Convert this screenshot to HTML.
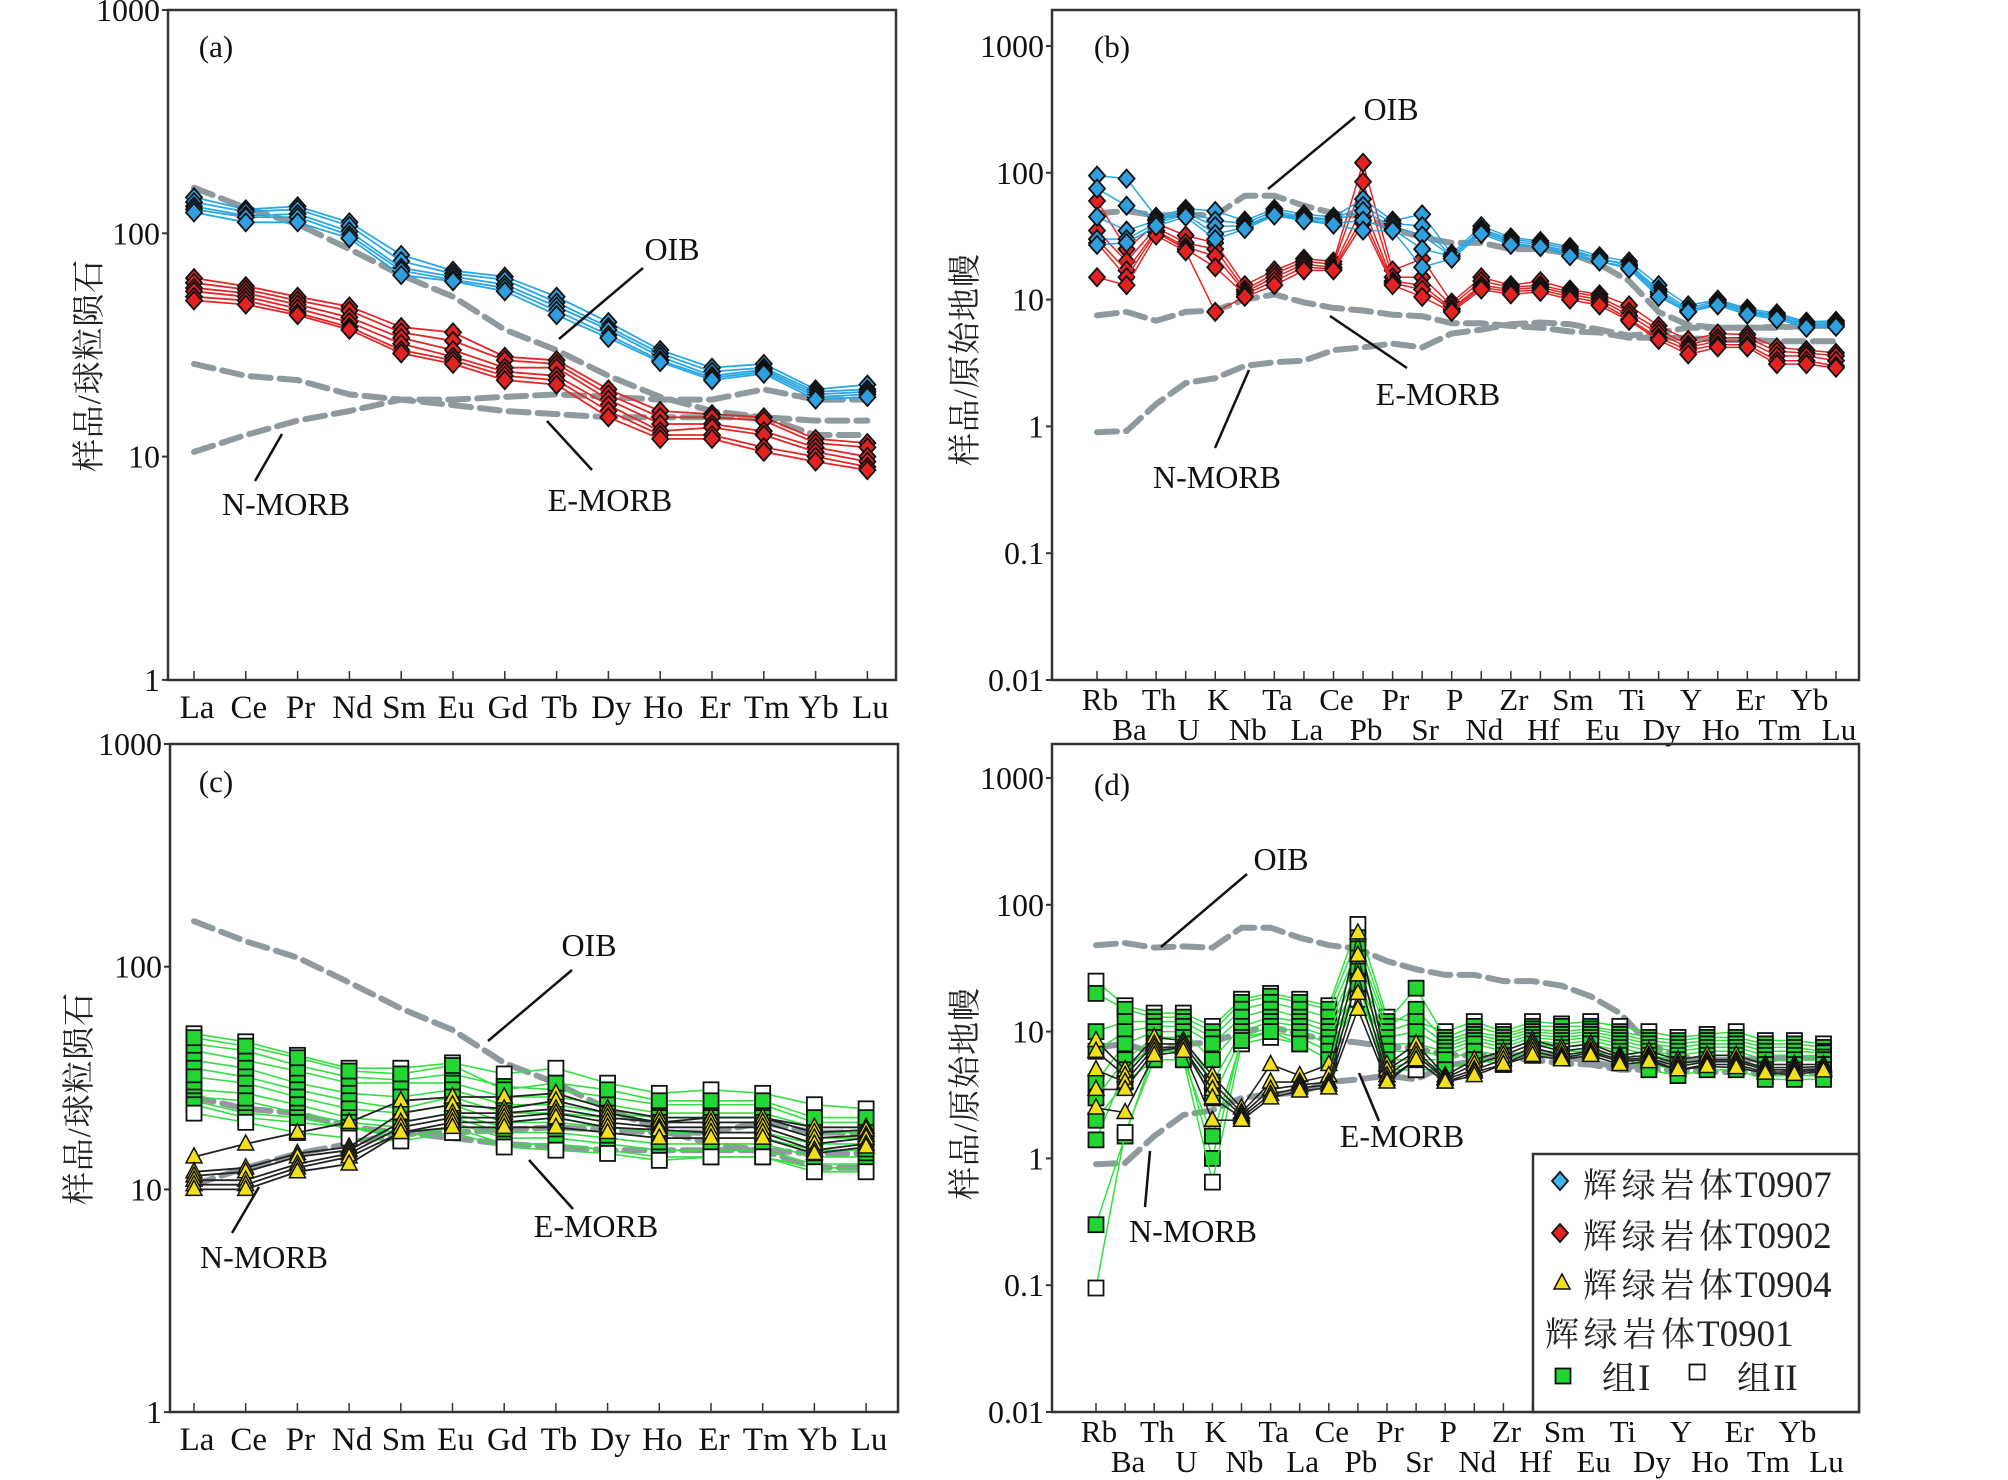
<!DOCTYPE html>
<html><head><meta charset="utf-8"><title>REE and trace element diagrams</title>
<style>
html,body{margin:0;padding:0;background:#fff;}
svg{display:block;font-family:"Liberation Serif","Noto Serif CJK SC","Noto Sans CJK SC",serif;}
</style></head>
<body>
<svg id="fig" width="2008" height="1480" viewBox="0 0 2008 1480" xmlns="http://www.w3.org/2000/svg"></svg>
<script>
// ---------- categories ----------
const reeElements = ["La","Ce","Pr","Nd","Sm","Eu","Gd","Tb","Dy","Ho","Er","Tm","Yb","Lu"];
const spiderElements = ["Rb","Ba","Th","U","K","Nb","Ta","La","Ce","Pb","Pr","Sr","P","Nd","Zr","Hf","Sm","Eu","Ti","Dy","Y","Ho","Er","Tm","Yb","Lu"];
const reeTicks = ["1000","100","10","1"];
const reeTickValues = [1000,100,10,1];
const spiderTicks = ["1000","100","10","1","0.1","0.01"];
const spiderTickValues = [1000,100,10,1,0.1,0.01];

// ---------- reference curves (chondrite-normalised) ----------
const reeOIB   = [160,130,110,85,65,52,37,30,23,18.5,16,15,12.5,12.5];
const reeEMORB = [26,23,22,19,18,17,16,15.5,15,15,15,15,14.5,14.5];
const reeNMORB = [10.5,12.5,14.5,16,18,18,18.5,19,18.5,18,18,20,18,18];

// ---------- reference curves (primitive-mantle-normalised) ----------
const pmOIB   = [48,50,46,47,46,66,66,55,48,45,36,31,28,28,25,25,23,19,14,8,6.3,6,6,6,6.2,6.2];
const pmEMORB = [7.5,8,6.8,8,8.2,10,11,9.5,8.6,8.2,7.6,7.4,6.5,6.5,6.2,6,5.6,5.5,5,5,5,4.8,4.8,4.7,4.7,4.7];
const pmNMORB = [0.9,0.92,1.5,2.2,2.4,3,3.2,3.3,4,4.2,4.5,4.2,5.4,5.8,6.4,6.6,6.4,5.8,5.2,5.5,6,6,6,6.1,6.2,6.2];

// ---------- panel (a) ----------
const aBlue1 = [145,128,132,112,80,68,64,52,40,30,25,26,20,21];
const aBlue2 = [138,125,128,108,75,66,62,49,38,29,24,25,19.5,20];
const aBlue3 = [132,120,122,102,70,64,59,47,37,28,23,24.5,19,19.5];
const aBlue4 = [128,118,118,98,68,62,57,45,35,27,22.5,24,18.5,19];
const aBlue5 = [124,112,112,95,65,61,55,43,34,26.5,22,23.5,18,18.5];
const aRed1 = [63,58,52,47,38,36,28,27,20,16,15.5,15,12,11.5];
const aRed2 = [60,56,50,45,36,33,27,26,19,15,15,14.5,11.5,11];
const aRed3 = [57,54,48,42,34,30,25,25,18,14,14,13,11,10];
const aRed4 = [55,52,46,40,32,28,24,23,17,13,13.5,12.5,10.5,9.5];
const aRed5 = [52,50,44,38,30,27,23,22,16,12.5,12.5,11,10,9];
const aRed6 = [50,48,43,37,29,26,22,21,15,12,12,10.5,9.5,8.7];

// ---------- panel (b) ----------
const bBlue1 = [95,90,45,52,50,42,52,47,45,62,42,47,23,38,31,29,26,22,20,13,9,10,8.5,7.8,6.7,6.8];
const bBlue2 = [75,55,43,50,42,40,50,45,43,55,40,38,22,36,30,28,25,21,19,12,8.5,9.8,8.2,7.6,6.5,6.6];
const bBlue3 = [45,35,42,48,38,38,48,44,42,50,38,32,22,35,29,27,24,21,18.5,11.5,8.2,9.5,8,7.4,6.3,6.4];
const bBlue4 = [30,30,40,47,33,37,47,43,40,42,36,25,22,34,28,26,23,20,18,11,8,9.3,7.8,7.2,6.2,6.3];
const bBlue5 = [27,28,38,45,30,36,46,42,39,35,35,18,21,33,27,26,22,20,17.5,10.5,8,9,7.6,7,6,6.1];
const bRed1 = [60,25,40,32,28,13,17,21,20,120,17,21,9.5,15,13,14,12,11,9,6.2,4.8,5.4,5.3,4.2,4,3.8];
const bRed2 = [35,20,37,28,25,12,16,20,19,85,15,15,9,14,12.5,13,11.5,10.5,8,5.8,4.4,5,5,3.9,3.8,3.6];
const bRed3 = [30,17,35,26,22,11.5,15,19,18,55,14,13,8.5,13,12,12.5,11,10,7.5,5.4,4.2,4.7,4.7,3.6,3.6,3.3];
const bRed4 = [28,15,34,25,18,11,14,18,17.5,45,13.5,12,8.3,12.5,11.5,12,10.5,9.5,7,5,4,4.4,4.4,3.3,3.3,3.0];
const bRed5 = [15,13,32,24,8,10.5,13,17,17,40,13,10.5,8,12,11,11.5,10,9,6.8,4.8,3.7,4.2,4.2,3.1,3.1,2.9];

// ---------- panel (c) ----------
const cGreen1 = [50,46,40,35,35,37,33,35,30,27,28,27,24,23];
const cGreen2 = [45,42,36,32,31,33,29,28,26,24,24,24,20,20];
const cGreen3 = [42,38,34,30,30,30,26,26,24,22,22,22,19,19];
const cGreen4 = [38,35,30,27,26,28,24,24,22,21,21,21,18,18];
const cGreen5 = [35,32,28,25,23,26,22,22,21,20,20,20,17,17];
const cGreen6 = [32,30,26,23,22,24,20,20,19,18,18,18,16,16];
const cGreen7 = [28,27,24,21,20,22,19,19,18,17,17,17,15,15];
const cGreen8 = [26,25,22,20,19,21,18,18,17,16,16,16,14,14];
const cGreen9 = [25,22,21,19,18,20,17,17,16,15,15,15,13,13];
const cGreen10 = [24,21,20,19,17,19,16,16,15,14,14,14,12.5,12.5];
const cGreen11 = [22,20,18,17,16.5,18,15.5,15,14.5,13.5,14,14,12,12];
const cGreen12 = [48,44,39,34,33,36,28,30,28,25,25,25,21,21];
const cTri1 = [14,16,18,20,25,26,26,27,23,21,21,21,19,19];
const cTri2 = [12,12.5,14.5,15.5,22,24,23,25,22,20,21,21,18,18.5];
const cTri3 = [11.5,12,14,15,20,22,22,23,21,20,20,20,17,17.5];
const cTri4 = [11,11,13,14.5,19,21,21,22,20,19,19,19,16,17];
const cTri5 = [10.5,10.5,12.5,14,18,20,20,21,19,18.5,18,18,15,16];
const cTri6 = [10,10,12,13,18,19,19,19,18,17,17,17,14.5,15.5];

// ---------- panel (d) ----------
const dGreen1 = [25,16,14,14,11,18,20,18,16,70,13,12,10,12,10,12,11.5,12,11,10,9,9.5,10,8.5,8.5,8];
const dGreen2 = [20,15,13,13,10,17,19,17,15,55,12,22,9,11,9.5,11,11,11,10,9,8.5,9,9,8,8,7.5];
const dGreen3 = [10,12,12,12,9,15,17,15,13,45,11,15,8.5,10,9,10.5,10,10.5,9.5,8.5,8,8.5,8.5,7.5,7.5,7];
const dGreen4 = [7,10,11,11,8,13,15,13,11,38,10,12,8,9.5,8.5,10,9.5,10,9,8,7.5,8,8,7,7,6.8];
const dGreen5 = [4,8,10,10,6,11,13,12,10,30,9,10,7.5,9,8,9.5,9,9.5,8.5,7.5,7,7.5,7.5,6.5,6.5,6.3];
const dGreen6 = [3,6,9,9,4,10,12,11,9,25,8,8,7,8.5,7.5,9,8.5,9,8,7,6.5,7,7,6,6,6];
const dGreen7 = [1.4,5,8,8,3,9,11,10,8,22,7,7,6.5,8,7,8.5,8,8.5,7.5,6.5,6,6.5,6.5,5.5,5.5,5.5];
const dGreen8 = [0.3,1.5,7,7,1,9,10,9,7,20,6,6,6,7,6.5,8,7.5,8,7,6,5.5,6,6,5,5,5];
const dGreen9 = [0.095,1.6,6,6,0.65,8,9,8,6,18,5,5,5,6,6,7,7,7,6.5,5.5,5,5.5,5.5,4.5,4.5,4.5];
const dGreen10 = [2,4,6,6,1.5,8.5,10,8,6,24,5,6,5,6,5.5,6.5,6.5,7,6.5,5,4.5,5,5,4.2,4.2,4.2];
const dTri1 = [8.5,5,9,8.5,4.5,2.5,5.5,4.5,5.5,60,5.5,8,4.5,6,7,8.5,7.5,8,6.5,7,6,6.5,6.5,5.5,5.5,5.5];
const dTri2 = [7,4.5,8,8,4,2.3,4,4,4.5,40,5,7,4.3,5.5,6.5,8,7,7.5,6.2,6.5,5.6,6,6,5.2,5.2,5.3];
const dTri3 = [5,4,7.5,7.5,3.5,2.2,3.5,3.8,4,28,4.5,6.5,4.2,5,6,7.5,6.5,7,6,6.2,5.3,5.8,5.8,5,5,5.1];
const dTri4 = [3.5,3.5,7,7.5,3,2.1,3.2,3.6,3.8,20,4.2,6,4,4.8,5.5,7,6.2,6.8,5.8,6,5,5.5,5.5,4.8,4.8,5];
const dTri5 = [2.5,2.3,6.5,7,2,2,3,3.4,3.6,15,4,6,4,4.5,5.5,6.5,6,6.5,5.5,5.8,5,5.3,5.2,4.7,4.6,4.9];

// ---------- drawing ----------
const NS = "http://www.w3.org/2000/svg";
const svg = document.getElementById("fig");
function mk(tag, attrs, parent){
  const e = document.createElementNS(NS, tag);
  for (const k in attrs) e.setAttribute(k, attrs[k]);
  (parent||svg).appendChild(e);
  return e;
}

const panels = {
  a:{left:168,top:10,right:896,bottom:680,yTop:10,topVal:1000,decade:223.3,x0:194,step:51.8,cats:reeElements,ticks:reeTicks,tickVals:reeTickValues,twoRow:false,title:"样品/球粒陨石",titleX:90,titleY:366},
  b:{left:1052,top:10,right:1859,bottom:680,yTop:46,topVal:1000,decade:126.8,x0:1097,step:29.56,cats:spiderElements,ticks:spiderTicks,tickVals:spiderTickValues,twoRow:true,title:"样品/原始地幔",titleX:966,titleY:360},
  c:{left:170,top:744,right:898,bottom:1412,yTop:744,topVal:1000,decade:222.7,x0:194,step:51.7,cats:reeElements,ticks:reeTicks,tickVals:reeTickValues,twoRow:false,title:"样品/球粒陨石",titleX:80,titleY:1099},
  d:{left:1052,top:744,right:1859,bottom:1412,yTop:778,topVal:1000,decade:126.8,x0:1096,step:29.1,cats:spiderElements,ticks:spiderTicks,tickVals:spiderTickValues,twoRow:true,title:"样品/原始地幔",titleX:966,titleY:1094}
};
function xScale(p,i){ return p.x0 + i*p.step; }
function yScale(p,v){ return p.yTop + (Math.log10(p.topVal) - Math.log10(v))*p.decade; }

function drawAxes(key){
  const p = panels[key];
  const g = mk("g",{});
  
  
  const fr = mk("rect",{x:p.left,y:p.top,width:p.right-p.left,height:p.bottom-p.top,fill:"none",stroke:"#333","stroke-width":2.5},g);
  
  
  p.ticks.forEach((t,i)=>{
    const y = yScale(p,p.tickVals[i]);
    const tk = mk("line",{x1:p.left-6,x2:p.left,y1:y,y2:y,stroke:"#333","stroke-width":2},g);
    
    
    const tx = mk("text",{x:p.left-8,y:y+11,"text-anchor":"end","font-size":32,fill:"#111"},g);
    tx.textContent = t;
    
    
  });
  p.cats.forEach((c,i)=>{
    const x = xScale(p,i);
    const tk = mk("line",{x1:x,x2:x,y1:p.bottom,y2:p.bottom-9,stroke:"#333","stroke-width":1.5},g);
    
    
    let ty;
    if (p.twoRow) ty = p.bottom + (i%2===0 ? 30 : 60);
    else ty = p.bottom + 38;
    const tx = mk("text",{x:x+3,y:ty,"text-anchor":"middle","font-size":p.twoRow?31:33,fill:"#111"},g);
    tx.textContent = c;
    
    
  });
  const tt = mk("text",{x:p.titleX,y:p.titleY,"text-anchor":"middle","font-size":33,fill:"#222",transform:"rotate(-90 "+p.titleX+" "+p.titleY+")",textLength:212,lengthAdjust:"spacing","dominant-baseline":"central"},g);
  tt.textContent = p.title;
  
  
}

function pathFor(p,vals){
  return vals.map((v,i)=>(i?"L":"M")+xScale(p,i).toFixed(1)+" "+yScale(p,v).toFixed(1)).join(" ");
}
function drawDashed(key,vals,name){
  const p = panels[key];
  const e = mk("path",{d:pathFor(p,vals),fill:"none",stroke:"#8f9a9e","stroke-width":6,"stroke-dasharray":"20 9","stroke-linecap":"round"});
  
  
}
function marker(g,shape,x,y,fill){
  let e;
  if (shape==="diamond") e = mk("polygon",{points:`${x},${y-9} ${x+8},${y} ${x},${y+9} ${x-8},${y}`,fill:fill,stroke:"#111","stroke-width":1.8},g);
  else if (shape==="square") e = mk("rect",{x:x-7.5,y:y-7.5,width:15,height:15,fill:fill,stroke:"#111","stroke-width":1.8},g);
  else e = mk("polygon",{points:`${x},${y-9} ${x+8},${y+6} ${x-8},${y+6}`,fill:fill,stroke:"#111","stroke-width":1.5},g);
  return e;
}
function drawSeries(key,vals,lineColor,shape,fill,name,lw){
  const p = panels[key];
  const g = mk("g",{});
  
  
  const ln = mk("path",{d:pathFor(p,vals),fill:"none",stroke:lineColor,"stroke-width":lw||1.8},g);
  
  
  vals.forEach((v,i)=>{
    const m = marker(g,shape,xScale(p,i),yScale(p,v),fill);
    
    
  });
}
function label(x,y,txt,name,size){
  const t = mk("text",{x:x,y:y,"text-anchor":"middle","font-size":size||32,fill:"#111"});
  t.textContent = txt;
  
  
}
function leader(x1,y1,x2,y2,name){
  const l = mk("line",{x1:x1,y1:y1,x2:x2,y2:y2,stroke:"#111","stroke-width":2.5});
  
  
}

["a","b","c","d"].forEach(drawAxes);

const BLUE_L="#2aa6e4", BLUE_F="#2f9fe0", RED_L="#e32626", RED_F="#e52222", GREEN_L="#33e040", GREEN_F="#22d633", TRI_F="#f2e01a";

drawDashed("a",reeOIB,"oib-curve");
drawDashed("a",reeEMORB,"e-morb-curve");
drawDashed("a",reeNMORB,"n-morb-curve");
[aBlue1,aBlue2,aBlue3,aBlue4,aBlue5].forEach((s,i)=>drawSeries("a",s,BLUE_L,"diamond",BLUE_F,"t0907-sample-"+(i+1)));
[aRed1,aRed2,aRed3,aRed4,aRed5,aRed6].forEach((s,i)=>drawSeries("a",s,RED_L,"diamond",RED_F,"t0902-sample-"+(i+1)));

drawDashed("b",pmOIB,"oib-curve");
drawDashed("b",pmEMORB,"e-morb-curve");
drawDashed("b",pmNMORB,"n-morb-curve");
[bRed1,bRed2,bRed3,bRed4,bRed5].forEach((s,i)=>drawSeries("b",s,RED_L,"diamond",RED_F,"t0902-sample-"+(i+1),1.5));
[bBlue1,bBlue2,bBlue3,bBlue4,bBlue5].forEach((s,i)=>drawSeries("b",s,BLUE_L,"diamond",BLUE_F,"t0907-sample-"+(i+1),1.5));

drawDashed("c",reeOIB,"oib-curve");
drawDashed("c",reeEMORB,"e-morb-curve");
drawDashed("c",reeNMORB,"n-morb-curve");
const cGreens=[cGreen1,cGreen2,cGreen3,cGreen4,cGreen5,cGreen6,cGreen7,cGreen8,cGreen9,cGreen10,cGreen11,cGreen12];
cGreens.forEach((s,i)=>drawSeries("c",s,GREEN_L,"square",(i===0||i===10)?"#fff":GREEN_F,"t0901-sample-"+(i+1),1.6));
[cTri1,cTri2,cTri3,cTri4,cTri5,cTri6].forEach((s,i)=>drawSeries("c",s,"#222","triangle",TRI_F,"t0904-sample-"+(i+1),1.8));

drawDashed("d",pmOIB,"oib-curve");
drawDashed("d",pmEMORB,"e-morb-curve");
drawDashed("d",pmNMORB,"n-morb-curve");
const dGreens=[dGreen1,dGreen2,dGreen3,dGreen4,dGreen5,dGreen6,dGreen7,dGreen8,dGreen9,dGreen10];
dGreens.forEach((s,i)=>drawSeries("d",s,GREEN_L,"square",(i===0||i===8)?"#fff":GREEN_F,"t0901-sample-"+(i+1),1.5));
[dTri1,dTri2,dTri3,dTri4,dTri5].forEach((s,i)=>drawSeries("d",s,"#222","triangle",TRI_F,"t0904-sample-"+(i+1),1.6));

label(216,57,"(a)","panel-label-a",31);
label(1112,57,"(b)","panel-label-b",31);
label(216,792,"(c)","panel-label-c",31);
label(1112,795,"(d)","panel-label-d",31);

label(672,260,"OIB","oib-label");
leader(643,268,559,339,"oib-leader");
label(286,515,"N-MORB","n-morb-label");
leader(282,434,255,481,"n-morb-leader");
label(610,511,"E-MORB","e-morb-label");
leader(547,421,592,470,"e-morb-leader");
label(1391,120,"OIB","oib-label");
leader(1355,117,1268,189,"oib-leader");
label(1438,405,"E-MORB","e-morb-label");
leader(1330,316,1407,368,"e-morb-leader");
label(1217,488,"N-MORB","n-morb-label");
leader(1249,370,1215,448,"n-morb-leader");
label(589,956,"OIB","oib-label");
leader(572,970,488,1041,"oib-leader");
label(596,1237,"E-MORB","e-morb-label");
leader(529,1160,573,1209,"e-morb-leader");
label(264,1268,"N-MORB","n-morb-label");
leader(259,1187,232,1233,"n-morb-leader");
label(1281,870,"OIB","oib-label");
leader(1247,874,1161,947,"oib-leader");
label(1402,1147,"E-MORB","e-morb-label");
leader(1359,1073,1379,1121,"e-morb-leader");
label(1193,1242,"N-MORB","n-morb-label");
leader(1150,1151,1145,1207,"n-morb-leader");

// legend
const lg = mk("g",{});


const lbox = mk("rect",{x:1533,y:1154,width:326,height:258,fill:"#fff",stroke:"#333","stroke-width":2.5},lg);


function legText(x,y,cjk,cjkLen,latin,name){
  const t = mk("text",{x:x,y:y,"font-size":34,fill:"#222",textLength:cjkLen,lengthAdjust:"spacing"},lg);
  t.textContent = cjk;
  
  
  const t2 = mk("text",{x:x+cjkLen+2,y:y,"font-size":37,fill:"#222"},lg);
  t2.textContent = latin;
  
  
}
let m;
m = marker(lg,"diamond",1560,1181,"#3ab8ec");


legText(1583,1197,"辉绿岩体",150,"T0907","legend-t0907");
m = marker(lg,"diamond",1560,1233,RED_F);


legText(1583,1248,"辉绿岩体",150,"T0902","legend-t0902");
m = marker(lg,"triangle",1562,1283,TRI_F);


legText(1583,1297,"辉绿岩体",150,"T0904","legend-t0904");
legText(1545,1346,"辉绿岩体",150,"T0901","legend-t0901");
m = marker(lg,"square",1563,1376,GREEN_F);


legText(1602,1390,"组",34,"I","legend-group1");
m = marker(lg,"square",1697,1372,"#fff");


legText(1737,1390,"组",34,"II","legend-group2");
</script>
</body></html>
